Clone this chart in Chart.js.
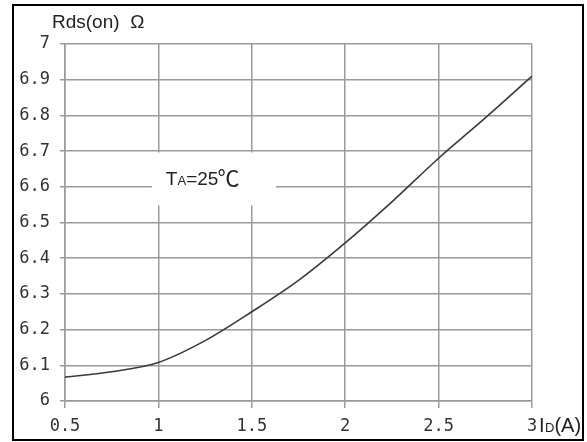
<!DOCTYPE html>
<html>
<head>
<meta charset="utf-8">
<script src="https://cdn.jsdelivr.net/npm/chart.js@4.4.0/dist/chart.umd.min.js"></script>
<style>
  html, body { margin: 0; padding: 0; background: #fff; }
  #wrap { position: relative; width: 587px; height: 442px; overflow: hidden; }
  #frame { position: absolute; left: 12px; top: 4px; width: 568px; height: 433px; border: 2px solid #000; pointer-events: none; }
  canvas { position: absolute; left: 0; top: 0; }
</style>
</head>
<body>
<div id="wrap">
  <canvas id="chart" width="587" height="442"></canvas>
  <div id="frame"></div>
</div>
<script>
// Drain current ID (A) and on-resistance Rds(on) (ohm) at TA = 25 °C
const drainCurrent = [0.5, 0.75, 1.0, 1.25, 1.5, 1.75, 2.0, 2.25, 2.5, 2.75, 3.0];
const rdsOn        = [6.067, 6.082, 6.108, 6.169, 6.25, 6.338, 6.443, 6.558, 6.68, 6.793, 6.91];

const xTickValues = [0.5, 1, 1.5, 2, 2.5, 3];
const yTickValues = [6, 6.1, 6.2, 6.3, 6.4, 6.5, 6.6, 6.7, 6.8, 6.9, 7];

const yTitle = 'Rds(on)  Ω';
const tempNote = { pre: 'T', sub: 'A', post: '=25', unit: '℃' };
const xUnit = { pre: 'I', sub: 'D', post: '(A)' };

const gridColor = '#9a9a9a';
const tickFont = { family: '"DejaVu Sans Mono", monospace', size: 17 };
const textFont = '"Liberation Sans", Arial, sans-serif';

// Title, unit label and the boxed temperature note
const labelsPlugin = {
  id: 'labels',
  beforeDatasetsDraw(chart) {
    const { ctx, scales: { x, y } } = chart;
    // white box behind the temperature note, hiding the grid there
    const left = x.getPixelForValue(0.965), right = x.getPixelForValue(1.63);
    const top = y.getPixelForValue(6.696), bottom = y.getPixelForValue(6.548);
    ctx.save();
    ctx.fillStyle = '#fff';
    ctx.fillRect(left, top, right - left, bottom - top);
    ctx.restore();
  },
  afterDraw(chart) {
    const { ctx, scales: { x, y } } = chart;
    ctx.save();
    ctx.fillStyle = '#222';
    ctx.textBaseline = 'alphabetic';
    ctx.textAlign = 'left';

    // y axis title
    ctx.font = '19px ' + textFont;
    ctx.fillText(yTitle, 52, 28);

    // x axis unit after the last tick
    let px = x.getPixelForValue(3) + 7;
    const base = 431.5;
    ctx.font = '20px ' + textFont;
    ctx.fillText(xUnit.pre, px, base);
    px += ctx.measureText(xUnit.pre).width + 0.5;
    ctx.font = '13px ' + textFont;
    ctx.fillText(xUnit.sub, px, base);
    px += ctx.measureText(xUnit.sub).width;
    ctx.font = '20px ' + textFont;
    ctx.fillText(xUnit.post, px, base);

    // temperature note
    let tx = x.getPixelForValue(1.04);
    const tb = y.getPixelForValue(6.6) - 1.5;
    ctx.font = '19px ' + textFont;
    ctx.fillText(tempNote.pre, tx, tb);
    tx += ctx.measureText(tempNote.pre).width;
    ctx.font = '13px ' + textFont;
    ctx.fillText(tempNote.sub, tx, tb);
    tx += ctx.measureText(tempNote.sub).width;
    ctx.font = '19px ' + textFont;
    ctx.fillText(tempNote.post, tx, tb);
    tx += ctx.measureText(tempNote.post).width;
    ctx.font = '22px "Noto Sans CJK SC", sans-serif';
    ctx.fillText(tempNote.unit, tx - 1, tb + 1);
    ctx.restore();
  }
};

new Chart(document.getElementById('chart'), {
  type: 'line',
  data: {
    datasets: [{
      data: drainCurrent.map((v, i) => ({ x: v, y: rdsOn[i] })),
      borderColor: '#3a3a3a',
      borderWidth: 1.6,
      pointRadius: 0,
      fill: false,
      cubicInterpolationMode: 'monotone'
    }]
  },
  options: {
    responsive: false,
    animation: false,
    devicePixelRatio: 1,
    layout: { padding: { left: 0, top: 44, right: 55, bottom: 0 } },
    plugins: { legend: { display: false }, tooltip: { enabled: false } },
    scales: {
      x: {
        type: 'linear',
        min: 0.5,
        max: 3,
        afterBuildTicks(scale) { scale.ticks = xTickValues.map(v => ({ value: v })); },
        afterFit(scale) { scale.height = 41; },
        grid: { color: gridColor, lineWidth: 1.5, tickLength: 7, drawTicks: true },
        border: { color: gridColor, width: 1.5 },
        ticks: {
          color: '#333',
          font: tickFont,
          padding: 8,
          maxRotation: 0,
          autoSkip: false,
          callback: v => String(v)
        }
      },
      y: {
        type: 'linear',
        min: 6,
        max: 7,
        afterBuildTicks(scale) { scale.ticks = yTickValues.map(v => ({ value: v })); },
        afterFit(scale) { scale.width = 65; },
        grid: { color: gridColor, lineWidth: 1.5, tickLength: 5, drawTicks: true },
        border: { color: gridColor, width: 1.5 },
        ticks: {
          color: '#333',
          font: tickFont,
          padding: 10,
          autoSkip: false,
          callback: v => String(v)
        }
      }
    }
  },
  plugins: [labelsPlugin]
});
</script>
</body>
</html>
